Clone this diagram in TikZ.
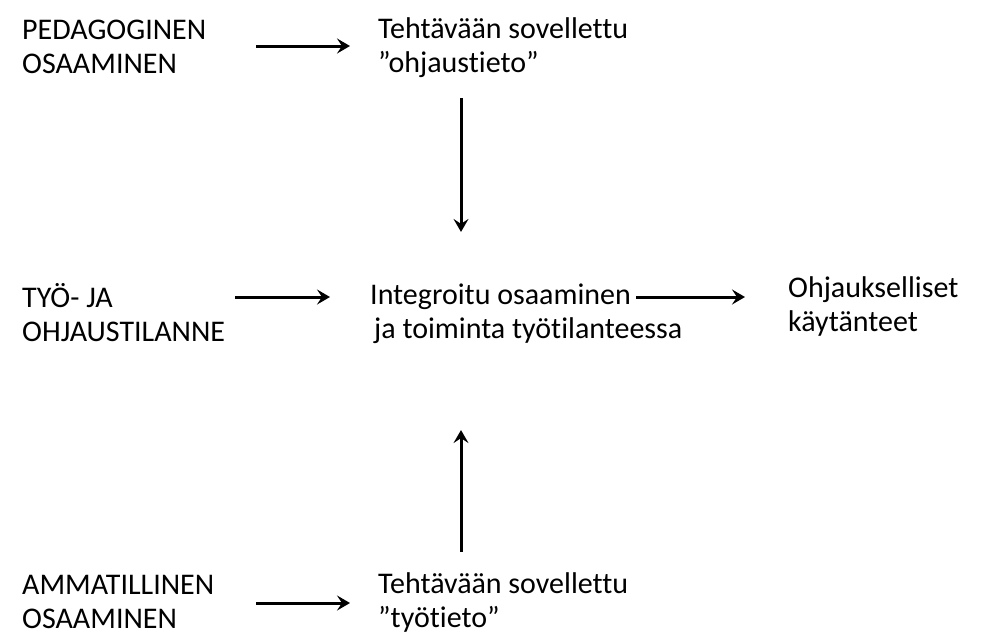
\documentclass[tikz,border=0pt]{standalone}
\usepackage{fontspec}
\setmainfont{Carlito}[Ligatures=NoCommon]
\usetikzlibrary{arrows.meta}
\begin{document}
\begin{tikzpicture}[x=1pt,y=-1pt,
  lbl/.style={anchor=west,align=left,inner sep=0pt,font=\fontsize{30}{34}\selectfont},
  arr/.style={line width=3pt,-{Stealth[length=13pt,width=15pt,inset=5pt]}}]
\useasboundingbox[fill=white] (0,0) rectangle (992,635);

% text blocks
\node[lbl] (ped) at (22,47)  {PEDAGOGINEN\\OSAAMINEN};
\node[lbl] (t1)  at (378,48) {Tehtävään sovellettu\\”ohjaustieto”};
\node[lbl] (tyo) at (22,313) {TYÖ- JA\\OHJAUSTILANNE};
\node[lbl] (int) at (370,314) {Integroitu osaaminen\\\hspace*{4pt}ja toiminta työtilanteessa};
\node[lbl] (ohj) at (788,306) {Ohjaukselliset\\käytänteet};
\node[lbl] (amm) at (22,602) {AMMATILLINEN\\OSAAMINEN};
\node[lbl] (t2)  at (378,602) {Tehtävään sovellettu\\”työtieto”};

% connectors
\draw[arr] ([xshift=234pt,yshift=1pt]ped.west) -- ([xshift=-28pt,yshift=2pt]t1.west);
\draw[arr] ([xshift=83pt,yshift=-20pt]t1.south west) -- ([xshift=91pt,yshift=52pt]int.north west);
\draw[arr] ([xshift=213pt,yshift=16pt]tyo.west) -- ([xshift=-40pt,yshift=17pt]int.west);
\draw[arr] ([xshift=266pt,yshift=17pt]int.west) -- ([xshift=-43pt,yshift=9pt]ohj.west);
\draw[arr] ([xshift=83pt,yshift=20pt]t2.north west) -- ([xshift=91pt,yshift=-86pt]int.south west);
\draw[arr] ([xshift=234pt,yshift=-1pt]amm.west) -- ([xshift=-28pt,yshift=-1pt]t2.west);
\end{tikzpicture}
\end{document}
